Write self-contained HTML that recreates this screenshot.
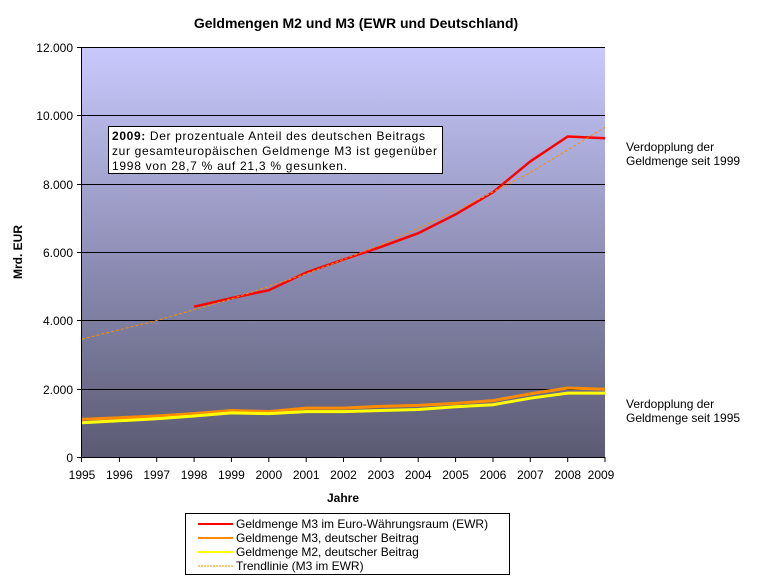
<!DOCTYPE html>
<html><head><meta charset="utf-8"><style>
html,body{margin:0;padding:0;background:#fff;}
svg{display:block;font-family:"Liberation Sans",Arial,sans-serif;}
</style></head><body>
<svg width="769" height="585" viewBox="0 0 769 585" xmlns="http://www.w3.org/2000/svg">
<defs>
<linearGradient id="bg" x1="0" y1="0" x2="0" y2="1">
<stop offset="0" stop-color="#c9c9fd"/>
<stop offset="0.5" stop-color="#9090b8"/>
<stop offset="1" stop-color="#5a5a72"/>
</linearGradient>
</defs>
<text x="356" y="28" text-anchor="middle" font-size="14" font-weight="bold">Geldmengen M2 und M3 (EWR und Deutschland)</text>
<rect x="82" y="47" width="523" height="410" fill="url(#bg)"/>
<g stroke="#000" stroke-width="1">
<line x1="82" y1="47.5" x2="605" y2="47.5"/>
<line x1="82" y1="115.5" x2="605" y2="115.5"/>
<line x1="82" y1="184.5" x2="605" y2="184.5"/>
<line x1="82" y1="252.5" x2="605" y2="252.5"/>
<line x1="82" y1="320.5" x2="605" y2="320.5"/>
<line x1="82" y1="389.5" x2="605" y2="389.5"/>
<line x1="82" y1="457.5" x2="605" y2="457.5"/>
<line x1="81.5" y1="47" x2="81.5" y2="462"/>
<line x1="77" y1="47.5" x2="82" y2="47.5"/><line x1="77" y1="115.5" x2="82" y2="115.5"/><line x1="77" y1="184.5" x2="82" y2="184.5"/><line x1="77" y1="252.5" x2="82" y2="252.5"/><line x1="77" y1="320.5" x2="82" y2="320.5"/><line x1="77" y1="389.5" x2="82" y2="389.5"/><line x1="77" y1="457.5" x2="82" y2="457.5"/>
<path d="M119.4 457v5M156.7 457v5M194.1 457v5M231.4 457v5M268.8 457v5M306.2 457v5M343.5 457v5M380.9 457v5M418.2 457v5M455.6 457v5M493 457v5M530.3 457v5M567.7 457v5M605 457v5"/>
</g>
<g font-size="12" text-anchor="end">
<text x="73" y="52">12.000</text><text x="73" y="120">10.000</text><text x="73" y="189">8.000</text><text x="73" y="257">6.000</text><text x="73" y="325">4.000</text><text x="73" y="394">2.000</text><text x="73" y="462">0</text>
</g>
<g font-size="12" text-anchor="middle">
<text x="82" y="479">1995</text><text x="119.4" y="479">1996</text><text x="156.7" y="479">1997</text><text x="194.1" y="479">1998</text><text x="231.4" y="479">1999</text><text x="268.8" y="479">2000</text><text x="306.2" y="479">2001</text><text x="343.5" y="479">2002</text><text x="380.9" y="479">2003</text><text x="418.2" y="479">2004</text><text x="455.6" y="479">2005</text><text x="493" y="479">2006</text><text x="530.3" y="479">2007</text><text x="567.7" y="479">2008</text><text x="601" y="479">2009</text>
</g>
<text x="343" y="502" text-anchor="middle" font-size="12" font-weight="bold">Jahre</text>
<text transform="translate(22,252) rotate(-90)" text-anchor="middle" font-size="12" font-weight="bold">Mrd. EUR</text>
<polyline fill="none" stroke="#ff8c00" stroke-width="3" points="82,419.4 119.4,417.7 156.7,416 194.1,413.6 231.4,410.5 268.8,411.6 306.2,408.1 343.5,408.1 380.9,406.4 418.2,405.4 455.6,403.4 493,400.6 530.3,393.8 567.7,388 605,389.3"/>
<polyline fill="none" stroke="#ffff00" stroke-width="3" points="82,422.8 119.4,420.8 156.7,418.7 194.1,416 231.4,412.9 268.8,413.6 306.2,411.6 343.5,411.6 380.9,410.5 418.2,409.5 455.6,406.8 493,404.7 530.3,398.2 567.7,393.1 605,393.1"/>
<polyline fill="none" stroke="#ff0000" stroke-width="2.5" points="194.1,306.7 231.4,298.1 268.8,290.2 306.2,272.5 343.5,259.5 380.9,246.9 418.2,233.2 455.6,214.4 493,192.2 530.3,161.4 567.7,136.5 605,138.2"/>
<polyline fill="none" stroke="#ff8c00" stroke-width="1" stroke-dasharray="3,2" points="82,339.1 156.7,320.5 231.4,298.9 306.2,273.8 380.9,244.9 455.6,211.3 530.3,172.5 605,127.3"/>
<rect x="108.5" y="126.5" width="334" height="47" fill="#fff" stroke="#000"/>
<g font-size="12">
<text x="112" y="140" textLength="313" lengthAdjust="spacing"><tspan font-weight="bold">2009:</tspan> Der prozentuale Anteil des deutschen Beitrags</text>
<text x="112" y="155" textLength="325" lengthAdjust="spacing">zur gesamteuropäischen Geldmenge M3 ist gegenüber</text>
<text x="112" y="170" textLength="235" lengthAdjust="spacing">1998 von 28,7 % auf 21,3 %  gesunken.</text>
<text x="626" y="151">Verdopplung der</text>
<text x="626" y="165">Geldmenge seit 1999</text>
<text x="626" y="408">Verdopplung der</text>
<text x="626" y="422">Geldmenge seit 1995</text>
</g>
<rect x="185.5" y="513.5" width="324" height="61" fill="#fff" stroke="#000"/>
<g stroke-width="2">
<line x1="198" y1="524" x2="233" y2="524" stroke="#ff0000"/>
<line x1="198" y1="538" x2="233" y2="538" stroke="#ff8c00"/>
<line x1="198" y1="552" x2="233" y2="552" stroke="#ffff00"/>
<line x1="198" y1="566" x2="233" y2="566" stroke="#ff8c00" stroke-width="1" stroke-dasharray="2,1"/>
</g>
<g font-size="12">
<text x="236" y="528">Geldmenge M3 im Euro-Währungsraum (EWR)</text>
<text x="236" y="542">Geldmenge M3, deutscher Beitrag</text>
<text x="236" y="556">Geldmenge M2, deutscher Beitrag</text>
<text x="236" y="570">Trendlinie (M3 im EWR)</text>
</g>
</svg>
</body></html>
